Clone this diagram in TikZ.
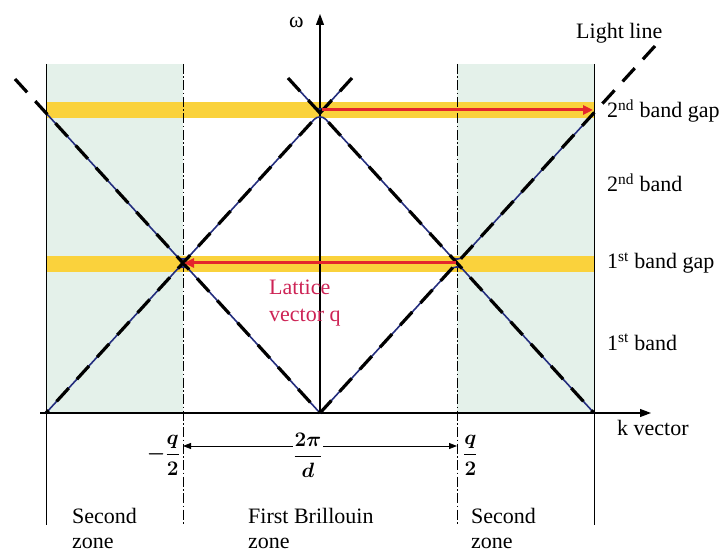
\documentclass[tikz,border=0pt]{standalone}
\usepackage{amsmath}
\usepackage{fontspec}
\setmainfont{Liberation Serif}
\usetikzlibrary{arrows.meta}
\definecolor{mint}{RGB}{228,241,234}
\definecolor{gold}{RGB}{250,210,60}
\definecolor{redarr}{RGB}{228,38,44}
\definecolor{navy}{RGB}{35,45,125}
\definecolor{crimson}{RGB}{205,35,85}
\begin{document}
\begin{tikzpicture}[x=1pt,y=-1pt,
  lbl/.style={inner sep=0,anchor=base west,font=\fontsize{22}{27}\selectfont},
  band/.style={draw=navy,line width=1.6pt,rounded corners=9pt},
  light/.style={line width=3.2pt,dash pattern=on 18pt off 12pt},
  zoneline/.style={line width=0.8pt},
  dashdot/.style={line width=0.8pt,dash pattern=on 10pt off 2.5pt on 1.5pt off 2.5pt},
  ax/.style={line width=1.1pt,-{Triangle[length=11pt,width=8pt]}},
  redarrow/.style={draw=redarr,line width=3pt,-{Triangle[length=10pt,width=9pt]}},
  frac/.style={inner sep=1pt,font=\fontsize{22}{24}\selectfont\boldmath}]
\useasboundingbox (0,0) rectangle (723,553);
% shaded second zones
\fill[mint] (46,64) rectangle (183,413);
\fill[mint] (457,64) rectangle (594,413);
% band gaps
\fill[gold] (46,102) rectangle (594,118);
\fill[gold] (46,256) rectangle (594,272);
% key coordinates
\coordinate (O) at (320,413);
\coordinate (L2) at (46,413);
\coordinate (R2) at (594,413);
\coordinate (XL) at (183,263);
\coordinate (XR) at (457,263);
\coordinate (XT) at (320,113);
\coordinate (TL) at (46,113);
\coordinate (TR) at (594,113);
\coordinate (E1) at (15,79);
\coordinate (E2) at (655,46);
\coordinate (E3) at (352,78);
\coordinate (E4) at (288,78);
% zone lines
\draw[zoneline] (46,64) -- (46,525);
\draw[zoneline] (594,64) -- (594,525);
\draw[dashdot] (183,64) -- (183,525);
\draw[dashdot] (457,64) -- (457,525);
% axes
\draw[ax] (40,413) -- (651,413);
\draw[ax] (O) -- (320,14);
% bands
\draw[band] (L2) -- (XL) -- (O);
\draw[band] (O) -- (XR) -- (R2);
\draw[band] (TL) -- (XL) -- (XT) -- (XR) -- (TR);
\draw[band] (289,79) -- (XT) -- (351,79);
% light lines
\draw[light] (E1) -- (O);
\draw[light] (E2) -- (O);
\draw[light] (E3) -- (L2);
\draw[light] (E4) -- (R2);
% lattice vector arrows
\draw[redarrow] (322,110) -- (593,110);
\draw[redarrow] (456,263) -- (184,263);
% dimension arrow
\draw[line width=0.8pt,{Triangle[length=8pt,width=6pt]}-{Triangle[length=8pt,width=6pt]}] (183,446) -- (457,446);
\node[frac,fill=white] (twopi) at (308,455) {$\dfrac{2\pi}{d}$};
\node[frac,anchor=east] (mq) at (181,455) {$-\dfrac{q}{2}$};
\node[frac,anchor=west] (pq) at (462,455) {$\dfrac{q}{2}$};
% labels
\node[lbl] (om) at (289,28) {ω};
\node[lbl] (ll) at (576,39) {Light line};
\node[lbl] (g2) at (607,118) {2\textsuperscript{nd} band gap};
\node[lbl] (b2) at (607,192) {2\textsuperscript{nd} band};
\node[lbl] (g1) at (607,269) {1\textsuperscript{st} band gap};
\node[lbl] (b1) at (607,350) {1\textsuperscript{st} band};
\node[lbl] (kv) at (617,435) {k vector};
\node[lbl,text=crimson] (lat) at (269,295) {Lattice};
\node[lbl,text=crimson] (vq) at (269,322) {vector q};
\node[lbl] (s1) at (72,523) {Second};
\node[lbl] (s1z) at (72,548) {zone};
\node[lbl] (fb) at (248,523) {First Brillouin};
\node[lbl] (fbz) at (248,548) {zone};
\node[lbl] (s2) at (471,523) {Second};
\node[lbl] (s2z) at (471,548) {zone};
\end{tikzpicture}
\end{document}
